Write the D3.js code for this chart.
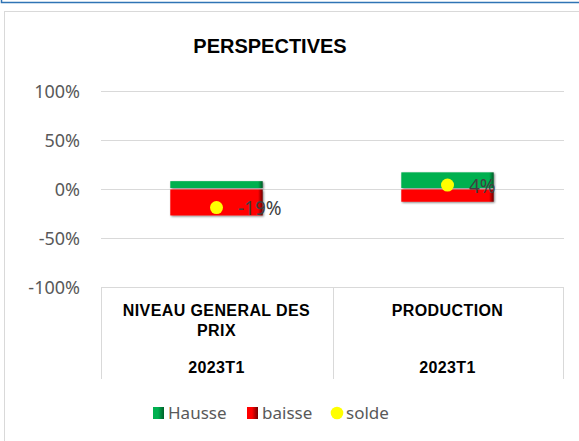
<!DOCTYPE html>
<html>
<head>
<meta charset="utf-8">
<script src="https://cdn.jsdelivr.net/npm/d3@7"></script>
<style>
  html, body { margin: 0; padding: 0; background: #fff; }
  svg { display: block; }
</style>
</head>
<body>
<svg id="chart" width="579" height="441"></svg>
<script>
// Survey outlook: share of "up" and "down" answers and the resulting balance
const categoryLines = [["NIVEAU GENERAL DES", "PRIX"], ["PRODUCTION"]];
const periods = ["2023T1", "2023T1"];
const hausse = [8, 17];
const baisse = [-27, -13];
const solde = [-19, 4];
const yTicks = [-100, -50, 0, 50, 100];
const legendItems = ["Hausse", "baisse", "solde"];

const svg = d3.select("#chart");
const defs = svg.append("defs");

function barGradient(id, base, dark, from) {
  const g = defs.append("linearGradient").attr("id", id)
    .attr("x1", "0").attr("y1", "0").attr("x2", "1").attr("y2", "0");
  g.append("stop").attr("offset", "0").attr("stop-color", base);
  g.append("stop").attr("offset", from).attr("stop-color", base);
  g.append("stop").attr("offset", "1").attr("stop-color", dark);
}
barGradient("gHausse", "#00b050", "#005a26", "0.95");
barGradient("gBaisse", "#ff0000", "#6a0000", "0.95");
barGradient("lgHausse", "#00b050", "#00602a", "0.45");
barGradient("lgBaisse", "#ff0000", "#700000", "0.45");

const shadow = defs.append("filter").attr("id", "soft")
  .attr("x", "-10%").attr("y", "-20%").attr("width", "120%").attr("height", "140%");
shadow.append("feGaussianBlur").attr("in", "SourceAlpha").attr("stdDeviation", 1.2).attr("result", "b");
shadow.append("feOffset").attr("in", "b").attr("dx", 0.5).attr("dy", 0.8).attr("result", "o");
shadow.append("feComponentTransfer").attr("in", "o").attr("result", "s")
  .append("feFuncA").attr("type", "linear").attr("slope", 0.5);
const merge = shadow.append("feMerge");
merge.append("feMergeNode").attr("in", "s");
merge.append("feMergeNode").attr("in", "SourceGraphic");

// Frame edge above the chart and the chart area border
svg.append("path").attr("d", "M1.5,0 V2.5 H579")
  .attr("fill", "none").attr("stroke", "#2f74b5").attr("stroke-width", 1.5);
svg.append("rect").attr("x", 4.5).attr("y", 11.5).attr("width", 620).attr("height", 520)
  .attr("fill", "#fff").attr("stroke", "#d9d9d9").attr("stroke-width", 1);

// Title
svg.append("text").attr("x", 270).attr("y", 53.3).attr("text-anchor", "middle")
  .attr("font-family", "'Liberation Sans', Arial, sans-serif").attr("font-weight", "bold")
  .attr("font-size", 20).attr("fill", "#000").text("PERSPECTIVES");

const catKeys = categoryLines.map(d => d.join(" "));
const x = d3.scaleBand().domain(catKeys).range([101, 563]).paddingInner(0).paddingOuter(0);
const y = d3.scaleLinear().domain([-100, 100]).range([287, 91]);
const barW = x.bandwidth() * 0.4;

// Gridlines
const grid = svg.append("g").attr("transform", "translate(101,0)")
  .call(d3.axisLeft(y).tickValues(yTicks).tickSize(-463).tickFormat(""));
grid.select(".domain").remove();
grid.selectAll(".tick line").attr("stroke", "#d9d9d9").attr("stroke-width", 1);

// Y axis labels
const yAxis = svg.append("g").attr("transform", "translate(80,0)")
  .call(d3.axisLeft(y).tickValues(yTicks).tickSize(0).tickPadding(0).tickFormat(d => d + "%"));
yAxis.select(".domain").remove();
yAxis.selectAll("text").attr("font-family", "'Noto Sans', sans-serif")
  .attr("font-size", 18).attr("fill", "#595959").attr("dy", "0.35em");

// Category table under the plot
const table = svg.append("g");
[101, 333, 563].forEach(xx => {
  table.append("line").attr("x1", xx + 0.5).attr("x2", xx + 0.5).attr("y1", 287).attr("y2", 379)
    .attr("stroke", "#d9d9d9");
});
const catFont = g => g.attr("font-family", "'Liberation Sans', Arial, sans-serif")
  .attr("font-weight", "bold").attr("font-size", 16).attr("letter-spacing", 0.4)
  .attr("fill", "#000").attr("text-anchor", "middle");
categoryLines.forEach((lines, i) => {
  const cx = x(catKeys[i]) + x.bandwidth() / 2;
  lines.forEach((ln, j) => {
    table.append("text").call(catFont).attr("x", cx).attr("y", 315.5 + j * 20).text(ln);
  });
  table.append("text").call(catFont).attr("x", cx).attr("y", 372.5).text(periods[i]);
});

// Bars
const bars = svg.append("g").attr("filter", "url(#soft)");
bars.selectAll("rect.h").data(hausse).join("rect").attr("class", "h")
  .attr("x", (d, i) => x(catKeys[i]) + (x.bandwidth() - barW) / 2)
  .attr("width", barW)
  .attr("y", d => y(d)).attr("height", d => y(0) - y(d) - 1)
  .attr("fill", "url(#gHausse)");
bars.selectAll("rect.b").data(baisse).join("rect").attr("class", "b")
  .attr("x", (d, i) => x(catKeys[i]) + (x.bandwidth() - barW) / 2)
  .attr("width", barW)
  .attr("y", y(0) + 0.5).attr("height", d => y(d) - y(0) - 0.5)
  .attr("fill", "url(#gBaisse)");

// Balance points and their labels
svg.selectAll("circle.s").data(solde).join("circle").attr("class", "s")
  .attr("cx", (d, i) => x(catKeys[i]) + x.bandwidth() / 2)
  .attr("cy", d => y(d)).attr("r", 6.5).attr("fill", "#ffff00");
svg.selectAll("text.v").data(solde).join("text").attr("class", "v")
  .attr("x", (d, i) => x(catKeys[i]) + x.bandwidth() / 2 + 21.5)
  .attr("y", d => y(d) + 1).attr("dy", "0.35em")
  .attr("font-family", "'Noto Sans', sans-serif").attr("font-size", 19)
  .attr("fill", "#404040").text(d => d + "%");

// Legend
const legend = svg.append("g").attr("font-family", "'Noto Sans', sans-serif")
  .attr("font-size", 17).attr("fill", "#595959");
const legX = [153, 247, 331];
legendItems.forEach((name, i) => {
  if (i < 2) {
    legend.append("rect").attr("x", legX[i]).attr("y", 407).attr("width", 11).attr("height", 12)
      .attr("fill", i === 0 ? "url(#lgHausse)" : "url(#lgBaisse)");
  } else {
    legend.append("circle").attr("cx", legX[i] + 6).attr("cy", 413).attr("r", 6.3).attr("fill", "#ffff00");
  }
  legend.append("text").attr("x", legX[i] + 15).attr("y", 418.5).text(name);
});
</script>
</body>
</html>
